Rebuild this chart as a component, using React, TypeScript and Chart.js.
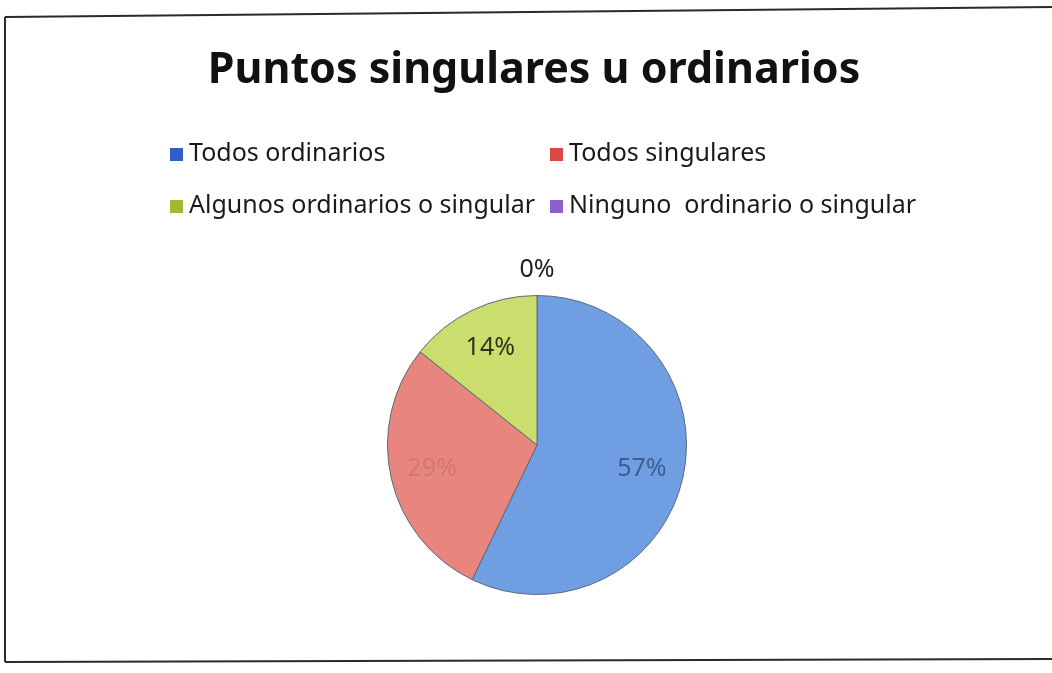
import React, { useEffect, useRef } from "react";
import { Chart, registerables } from "chart.js";

Chart.register(...registerables);

const titleText = "Puntos singulares u ordinarios";
const categories = [
  "Todos ordinarios",
  "Todos singulares",
  "Algunos ordinarios o singular",
  "Ninguno  ordinario o singular",
];
const counts = [4, 2, 1, 0];
const percentLabels = ["57%", "29%", "14%", "0%"];
const sliceColors = ["#6f9fe2", "#e8857e", "#c9de6c", "#9a7cc8"];
const legendColors = ["#2f5fc4", "#d94a44", "#9cbb33", "#8c5fcc"];
const labelColors = ["#3d5f92", "#cf7a73", "#2e3420", "#222222"];

const FONT = "'Noto Sans', 'Open Sans', sans-serif";

const framePlugin = {
  id: "frame",
  beforeDraw(chart: any) {
    const ctx = chart.ctx;
    ctx.save();
    ctx.fillStyle = "#ffffff";
    ctx.fillRect(0, 0, chart.width, chart.height);
    ctx.strokeStyle = "#2a2a2a";
    ctx.lineWidth = 2;
    ctx.beginPath();
    ctx.moveTo(5, 17);
    ctx.lineTo(1052, 7);
    ctx.moveTo(5, 17);
    ctx.lineTo(5, 662);
    ctx.moveTo(5, 662);
    ctx.lineTo(1052, 659);
    ctx.stroke();
    ctx.restore();
  },
  afterDraw(chart: any) {
    const ctx = chart.ctx;
    ctx.save();
    // title
    ctx.fillStyle = "#111111";
    ctx.font = `bold 43px ${FONT}`;
    ctx.textAlign = "center";
    ctx.textBaseline = "middle";
    ctx.fillText(titleText, 534, 71);
    // legend
    ctx.font = `25px ${FONT}`;
    ctx.textAlign = "left";
    const cols = [170, 550];
    const rows = [154, 206];
    categories.forEach((c, i) => {
      const x = cols[i % 2];
      const y = rows[Math.floor(i / 2)];
      ctx.fillStyle = legendColors[i];
      ctx.fillRect(x, y - 6, 13, 13);
      ctx.fillStyle = "#1a1a1a";
      ctx.fillText(c, x + 19, y);
    });
    // data labels
    const meta = chart.getDatasetMeta(0);
    ctx.font = `25px ${FONT}`;
    ctx.textAlign = "center";
    meta.data.forEach((arc: any, i: number) => {
      const { x, y, startAngle, endAngle, outerRadius } = arc.getProps(
        ["x", "y", "startAngle", "endAngle", "outerRadius"],
        true
      );
      const mid = (startAngle + endAngle) / 2;
      const r = endAngle - startAngle < 0.01 ? outerRadius + 26 : outerRadius * 0.72;
      ctx.fillStyle = labelColors[i];
      ctx.fillText(percentLabels[i], x + Math.cos(mid) * r, y + Math.sin(mid) * r);
    });
    ctx.restore();
  },
};

export default function App() {
  const ref = useRef<HTMLCanvasElement | null>(null);
  useEffect(() => {
    if (!ref.current) return;
    const chart = new Chart(ref.current, {
      type: "pie",
      data: {
        labels: categories,
        datasets: [
          {
            data: counts,
            backgroundColor: sliceColors,
            borderColor: "#5a6a7a",
            borderWidth: 1,
          },
        ],
      },
      options: {
        animation: false,
        responsive: true,
        maintainAspectRatio: false,
        layout: { padding: { left: 387, right: 365, top: 295, bottom: 78 } },
        plugins: {
          legend: { display: false },
          title: { display: false },
          tooltip: { enabled: false },
        },
      },
      plugins: [framePlugin],
    });
    return () => chart.destroy();
  }, []);
  return (
    <div style={{ position: "absolute", left: 0, top: 0, width: 1052, height: 673 }}>
      <canvas ref={ref} />
    </div>
  );
}
